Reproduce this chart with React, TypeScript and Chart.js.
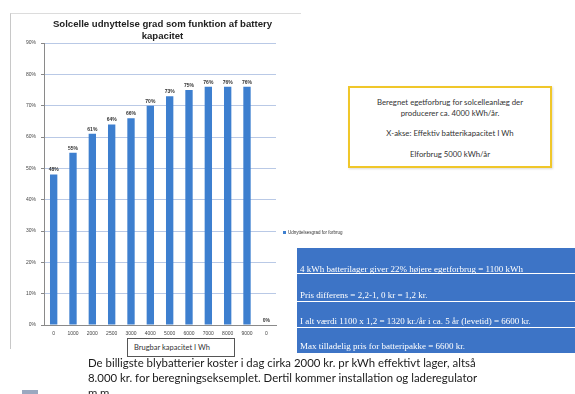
import React, { useEffect, useRef } from "react";
import { Chart, registerables } from "chart.js";

Chart.register(...registerables);

const categories = ["0", "1000", "2000", "2500", "3000", "4000", "5000", "6000", "7000", "8000", "9000", "0"];
const utilization = [48, 55, 61, 64, 66, 70, 73, 75, 76, 76, 76, 0];
const yMax = 90;
const yStep = 10;
const seriesName = "Udnyttelsesgrad for forbrug";
const titleLines = ["Solcelle udnyttelse grad som funktion af battery", "kapacitet"];
const xAxisTitle = "Brugbar kapacitet I Wh";
const noteLines = [
  "Beregnet egetforbrug for solcelleanlæg der",
  "producerer ca. 4000 kWh/år.",
  "X-akse: Effektiv batterikapacitet I Wh",
  "Elforbrug 5000 kWh/år",
];
const calcLines = [
  "4 kWh batterilager giver 22% højere egetforbrug = 1100 kWh",
  "Pris differens = 2,2-1, 0 kr = 1,2 kr.",
  "I alt værdi 1100 x 1,2 = 1320 kr./år i ca. 5 år (levetid) = 6600 kr.",
  "Max tilladelig pris for batteripakke = 6600 kr.",
];
const paragraphLines = [
  "De billigste blybatterier koster i dag cirka 2000 kr. pr kWh effektivt lager, altså",
  "8.000 kr. for beregningseksemplet. Dertil kommer installation og laderegulator",
  "m.m.",
];

const BAR = "#3d7fcf";

const valueLabels = {
  id: "valueLabels",
  afterDatasetsDraw(chart: any) {
    const ctx = chart.ctx;
    const meta = chart.getDatasetMeta(0);
    const data = chart.data.datasets[0].data;
    ctx.save();
    ctx.font = "bold 5px 'Liberation Sans', Arial, sans-serif";
    ctx.fillStyle = "#333";
    ctx.textAlign = "center";
    ctx.textBaseline = "bottom";
    meta.data.forEach((el: any, i: number) => {
      ctx.fillText(`${data[i]}%`, el.x, el.y - 2);
    });
    ctx.restore();
  },
};

function BarChart() {
  const ref = useRef<HTMLCanvasElement>(null);
  useEffect(() => {
    if (!ref.current) return;
    const chart = new Chart(ref.current, {
      type: "bar",
      data: {
        labels: categories,
        datasets: [
          {
            label: seriesName,
            data: utilization,
            backgroundColor: BAR,
            borderWidth: 0,
            barPercentage: 0.38,
            categoryPercentage: 1,
          },
        ],
      },
      options: {
        responsive: false,
        animation: false,
        layout: { padding: { left: 0, top: 43, right: 34, bottom: 0 } },
        plugins: { legend: { display: false }, title: { display: false }, tooltip: { enabled: false } },
        scales: {
          x: {
            grid: { display: false, drawTicks: false },
            border: { display: true, color: "#8a8a8a", width: 1 },
            ticks: {
              font: { size: 5, family: "'Liberation Sans', Arial, sans-serif" },
              color: "#444",
              padding: 6,
              maxRotation: 0,
              autoSkip: false,
            },
            afterFit: (s: any) => {
              s.height = 25;
            },
          },
          y: {
            min: 0,
            max: yMax,
            grid: { color: "#b9c9e6", lineWidth: 1, tickLength: 3, tickColor: "#888" },
            border: { display: true, color: "#8a8a8a", width: 1 },
            ticks: {
              stepSize: yStep,
              font: { size: 5, family: "'Liberation Sans', Arial, sans-serif" },
              color: "#444",
              padding: 5,
              callback: (v: any) => `${v}%`,
            },
            afterFit: (s: any) => {
              s.width = 44;
            },
          },
        },
      },
      plugins: [valueLabels],
    });
    return () => chart.destroy();
  }, []);
  return (
    <canvas
      ref={ref}
      width={310}
      height={350}
      style={{ position: "absolute", left: 0, top: 0, width: 310, height: 350 }}
    />
  );
}

export default function App() {
  const abs = (o: any): React.CSSProperties => ({ position: "absolute", ...o });
  return (
    <div
      style={abs({
        left: 0,
        top: 0,
        width: 575,
        height: 394,
        overflow: "hidden",
        background: "#fff",
        fontFamily: "Lato, 'Liberation Sans', sans-serif",
      })}
    >
      {/* chart frame */}
      <div style={abs({ left: 10, top: 13, width: 290, height: 335, borderLeft: "1px solid #c8c8c8", borderTop: "1px solid #dcdcdc" })} />
      <BarChart />
      {/* title */}
      <div
        style={abs({
          left: 30,
          top: 18,
          width: 265,
          textAlign: "center",
          fontFamily: "'Liberation Sans', Arial, sans-serif",
          fontWeight: "bold",
          fontSize: 9.6,
          lineHeight: "12px",
          color: "#222",
          whiteSpace: "nowrap",
        })}
      >
        <div>{titleLines[0]}</div>
        <div>{titleLines[1]}</div>
      </div>
      {/* legend */}
      <div style={abs({ left: 283, top: 231, width: 3, height: 3, background: BAR })} />
      <div style={abs({ left: 288, top: 229.5, fontSize: 4.5, lineHeight: "6px", color: "#333", whiteSpace: "nowrap", fontFamily: "'Liberation Sans', Arial, sans-serif" })}>
        {seriesName}
      </div>
      {/* x axis title box */}
      <div
        style={abs({
          left: 127,
          top: 338,
          width: 100,
          height: 17,
          border: "1px solid #555",
          background: "#fff",
          fontSize: 7.5,
          lineHeight: "17px",
          paddingLeft: 6,
          boxSizing: "content-box",
          color: "#333",
          whiteSpace: "nowrap",
        })}
      >
        {xAxisTitle}
      </div>
      {/* yellow note box */}
      <div
        style={abs({
          left: 348,
          top: 86,
          width: 200,
          height: 78,
          border: "2px solid #f0c72a",
          background: "#fff",
          boxShadow: "1px 1px 2px rgba(0,0,0,0.15)",
          color: "#333",
          fontSize: 7.8,
          textAlign: "center",
          whiteSpace: "nowrap",
        })}
      >
        <div style={abs({ left: 0, right: 0, top: 9, lineHeight: "11px" })}>
          <div>{noteLines[0]}</div>
          <div>{noteLines[1]}</div>
        </div>
        <div style={abs({ left: 0, right: 0, top: 40, lineHeight: "11px" })}>{noteLines[2]}</div>
        <div style={abs({ left: 0, right: 0, top: 61, lineHeight: "11px" })}>{noteLines[3]}</div>
      </div>
      {/* blue calc boxes */}
      {[
        [248, 25, 269],
        [274, 27, 295],
        [302, 25, 321],
        [328, 25, 346],
      ].map(([top, h, cy], i) => (
        <div key={i}>
          <div style={abs({ left: 297, top, width: 278, height: h, background: "#3d74c6" })} />
          <div
            style={abs({
              left: 300,
              top: cy - 6,
              height: 12,
              lineHeight: "12px",
              fontSize: 9,
              color: "#fff",
              whiteSpace: "nowrap",
              fontFamily: "'Liberation Serif', serif",
            })}
          >
            {calcLines[i]}
          </div>
        </div>
      ))}
      {/* paragraph */}
      <div style={abs({ left: 88, top: 355, fontSize: 11.4, lineHeight: "15px", color: "#1a1a1a", whiteSpace: "nowrap" })}>
        {paragraphLines.map((l, i) => (
          <div key={i}>{l}</div>
        ))}
      </div>
      <div style={abs({ left: 22, top: 390, width: 16, height: 4, background: "#9aa8c0" })} />
    </div>
  );
}
